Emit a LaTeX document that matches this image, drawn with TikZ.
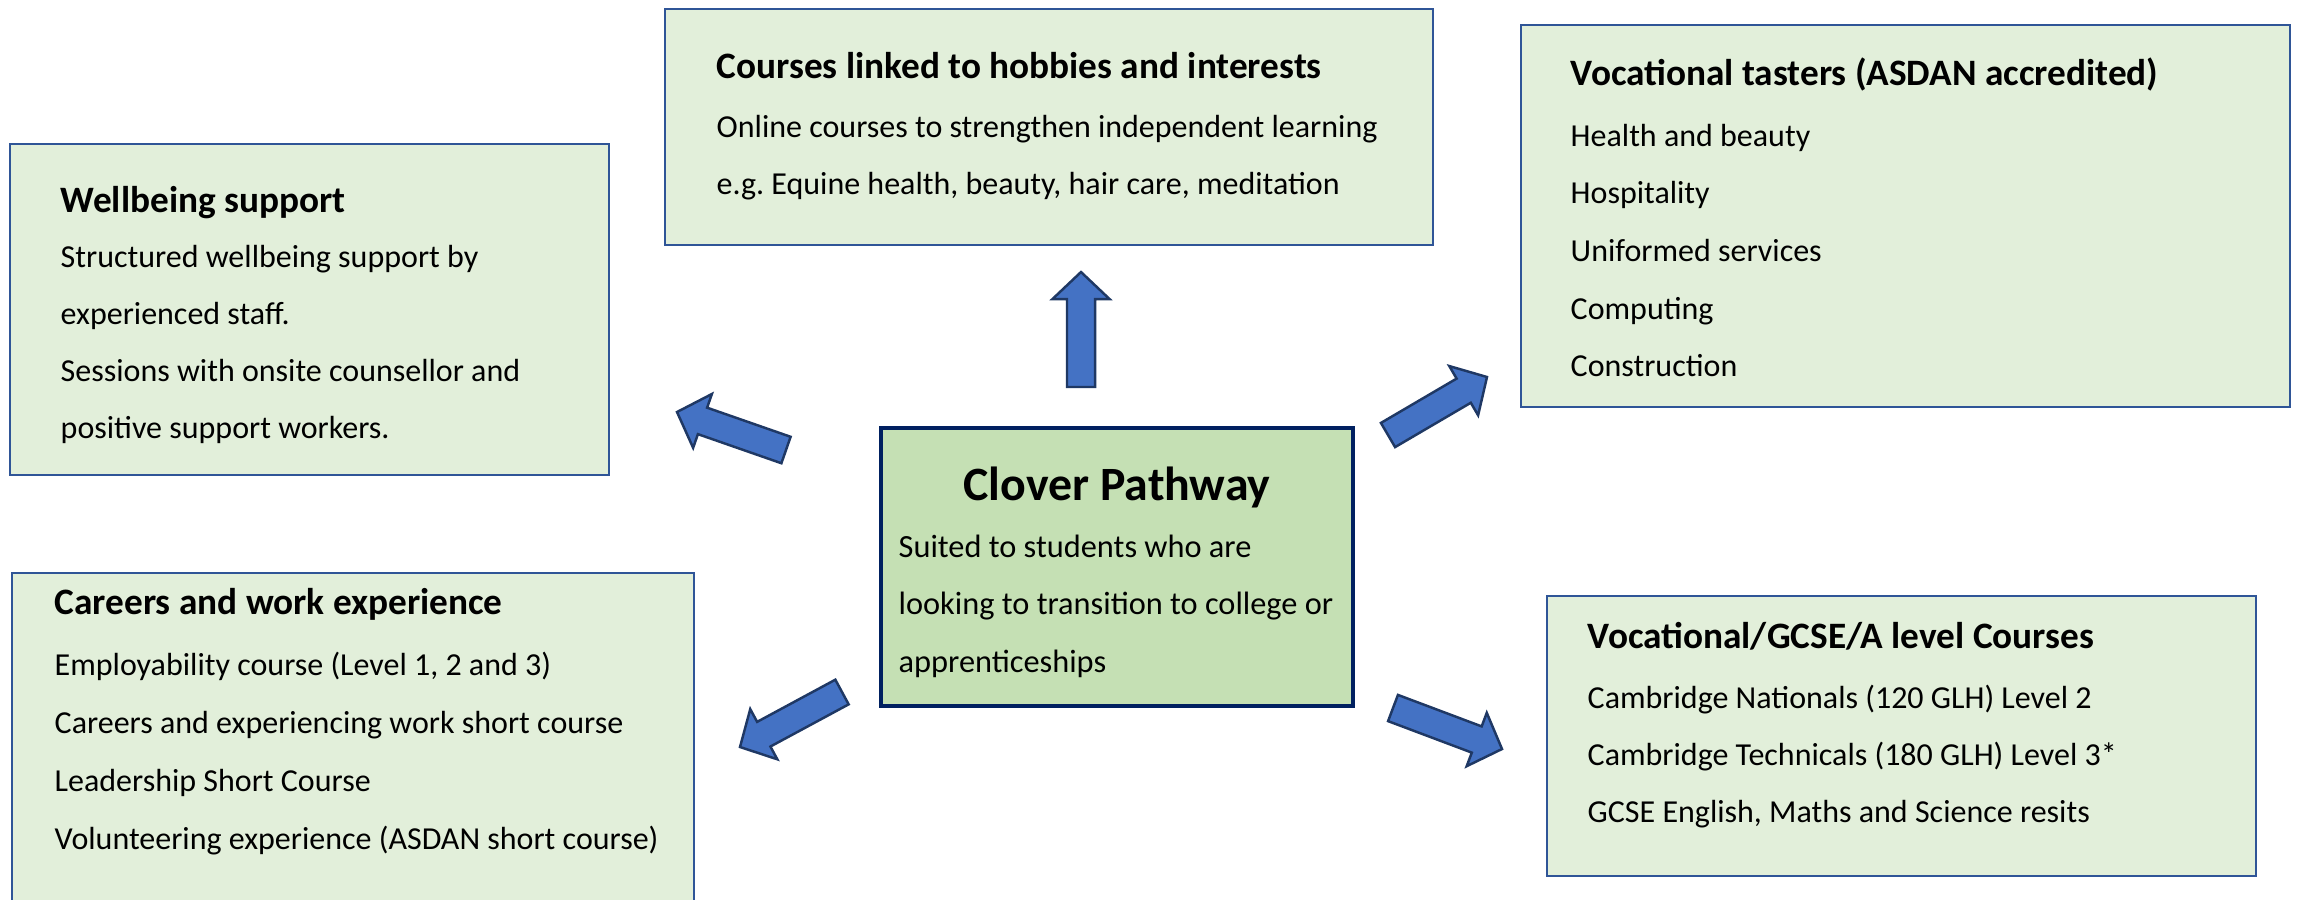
\documentclass[tikz,border=0pt]{standalone}
\usepackage{fontspec}
\setmainfont{Carlito}
\frenchspacing
\usetikzlibrary{calc,fit}

\definecolor{panelfill}{HTML}{E2EFDA}
\definecolor{panelline}{HTML}{2F5597}
\definecolor{centrefill}{HTML}{C5E0B4}
\definecolor{centreline}{HTML}{002060}
\definecolor{arrowfill}{HTML}{4472C4}
\definecolor{arrowline}{HTML}{1F3864}

\tikzset{
  panel/.style={draw=panelline, fill=panelfill, line width=0.65pt, inner sep=0pt},
  centre/.style={draw=centreline, fill=centrefill, line width=0.9pt, inner sep=0pt},
  head/.style={anchor=base west, inner sep=0pt, font=\bfseries\fontsize{10.6}{12}\selectfont},
  body/.style={anchor=base west, inner sep=0pt, font=\fontsize{9.1}{11}\selectfont},
  blockarrow/.style={draw=arrowline, fill=arrowfill, line width=0.7pt, line join=miter},
}

\begin{document}
\begin{tikzpicture}[x=0.01cm, y=-0.01cm]
  \useasboundingbox (0,0) rectangle (2297,899);
  \clip (0,0) rectangle (2297,899);

  % boxes
  \node[panel, fit={(665,9) (1433,245)}] (hobbies) {};
  \node[panel, fit={(1521,25) (2290,407)}] (tasters) {};
  \node[panel, fit={(10,144) (609,475)}] (wellbeing) {};
  \node[centre, fit={(881,428) (1353,706)}] (clover) {};
  \node[panel, fit={(12,573) (694,920)}] (careers) {};
  \node[panel, fit={(1547,596) (2256,876)}] (gcse) {};

  % centre
  \node[anchor=base, inner sep=0pt, font=\bfseries\fontsize{13.6}{15}\selectfont]
    (cloverHead) at (1117,500) {Clover Pathway};
  \foreach \txt [count=\i from 0] in {Suited to students who are,
      looking to transition to college or, apprenticeships}
    \node[body, font=\fontsize{9.2}{11}\selectfont] (clover-\i) at (898,557+57.5*\i) {\txt};

  % hobbies
  \node[head] (hobbiesHead) at (716,78) {Courses linked to hobbies and interests};
  \foreach \txt [count=\i from 0] in {Online courses to strengthen independent learning,
      {e.g. Equine health, beauty, hair care, meditation}}
    \node[body] (hobbies-\i) at (716,137+57*\i) {\txt};

  % tasters
  \node[head] (tastersHead) at (1570,85) {Vocational tasters (ASDAN accredited)};
  \foreach \txt [count=\i from 0] in {Health and beauty, Hospitality,
      Uniformed services, Computing, Construction}
    \node[body] (tasters-\i) at (1570,146+57.7*\i) {\txt};

  % wellbeing
  \node[head] (wellbeingHead) at (60,212) {Wellbeing support};
  \foreach \txt [count=\i from 0] in {Structured wellbeing support by,
      experienced staff., Sessions with onsite counsellor and,
      positive support workers.}
    \node[body] (wellbeing-\i) at (60,267+57.2*\i) {\txt};

  % careers
  \node[head] (careersHead) at (54,614) {Careers and work experience};
  \foreach \txt [count=\i from 0] in {{Employability course (Level 1, 2 and 3)},
      Careers and experiencing work short course, Leadership Short Course,
      Volunteering experience (ASDAN short course)}
    \node[body] (careers-\i) at (54,675+58*\i) {\txt};

  % gcse
  \node[head] (gcseHead) at (1587,648) {Vocational/GCSE/A level Courses};
  \foreach \txt [count=\i from 0] in {Cambridge Nationals (120 GLH) Level 2,
      Cambridge Technicals (180 GLH) Level 3*,
      {GCSE English, Maths and Science resits}}
    \node[body] (gcse-\i) at (1587,708+57*\i) {\txt};

  % arrow ends
  \coordinate (upTail) at (1081,387);   \coordinate (upTip) at (1081,272);
  \coordinate (wellTail) at (786,450);  \coordinate (wellTip) at (677,412);
  \coordinate (tasteTail) at (1388,435); \coordinate (tasteTip) at (1487,377);
  \coordinate (carTail) at (842,692);   \coordinate (carTip) at (740,747);
  \coordinate (gcseTail) at (1393,708); \coordinate (gcseTip) at (1502,749);

  \foreach \a/\b in {upTail/upTip, wellTail/wellTip, tasteTail/tasteTip,
      carTail/carTip, gcseTail/gcseTip} {
    \coordinate (\b-base) at ($(\b)!0.27cm!(\a)$);
    \draw[blockarrow]
      ($(\a)!0.14cm!90:(\b)$) -- ($(\b-base)!0.14cm!90:(\b)$)
      -- ($(\b-base)!0.285cm!90:(\b)$) -- (\b)
      -- ($(\b-base)!0.285cm!-90:(\b)$) -- ($(\b-base)!0.14cm!-90:(\b)$)
      -- ($(\a)!0.14cm!-90:(\b)$) -- cycle;
  }
\end{tikzpicture}
\end{document}
